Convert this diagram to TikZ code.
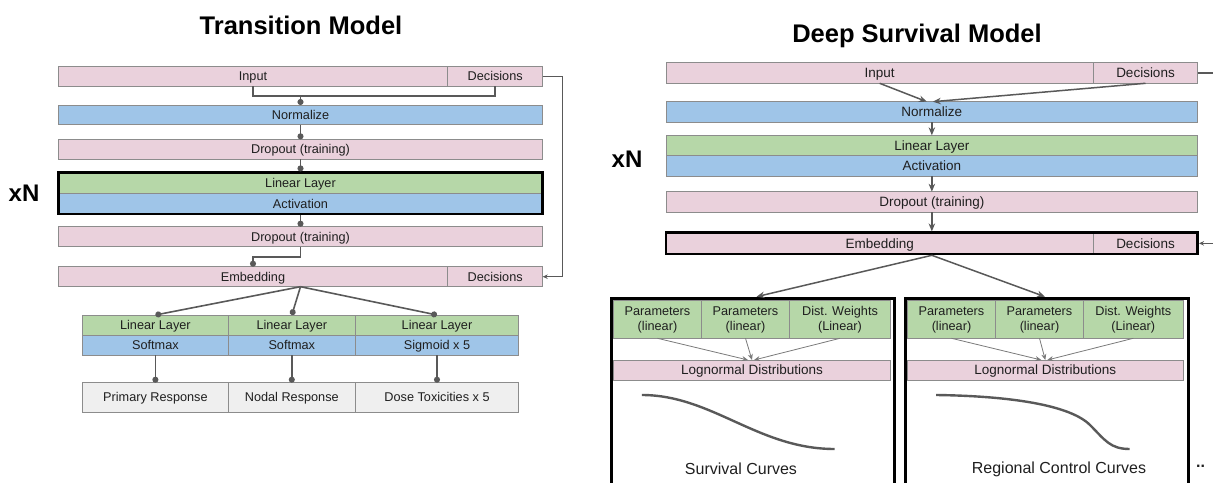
\documentclass[tikz,border=0pt]{standalone}
\usepackage{fontspec}
\setmainfont{Liberation Sans}
\usetikzlibrary{arrows.meta,fit,calc}

\definecolor{barpink}{HTML}{EAD1DC}
\definecolor{barblue}{HTML}{9FC5E8}
\definecolor{bargreen}{HTML}{B6D7A8}
\definecolor{bargrey}{HTML}{EFEFEF}
\definecolor{edgegrey}{HTML}{8C8C8C}
\definecolor{wire}{HTML}{595959}
\definecolor{thinwire}{HTML}{7A7A7A}
\definecolor{ink}{HTML}{1F1F1F}

\begin{document}
\begin{tikzpicture}[x=1pt,y=-1pt,
  cellbase/.style={draw=edgegrey, line width=0.8pt, inner sep=0pt, outer sep=0pt,
    anchor=north west, text=ink},
  cell/.style={cellbase, font=\fontsize{12.7}{15}\selectfont, text height=9.1pt, text depth=0pt},
  bigcell/.style={cellbase, font=\fontsize{13.5}{16}\selectfont, text height=9.7pt, text depth=0pt},
  paramcell/.style={cellbase, align=center, font=\fontsize{12.7}{15}\selectfont},
  pink/.style={fill=barpink}, blue/.style={fill=barblue},
  green/.style={fill=bargreen}, grey/.style={fill=bargrey},
  heavybox/.style={draw=black, line width=2.6pt, inner sep=0pt, fill=none},
  groupbox/.style={draw=black, line width=3pt, inner sep=0pt, anchor=north west},
  title/.style={font=\bfseries\fontsize{25.5}{30}\selectfont, text=black, inner sep=0pt},
  repeatmark/.style={font=\bfseries\fontsize{24}{28}\selectfont, text=black, inner sep=0pt},
  dotwire/.style={draw=wire, line width=1.6pt, -{Circle[length=6pt]}},
  plainwire/.style={draw=wire, line width=1.6pt},
  loopwire/.style={draw=wire, line width=1pt, -{Stealth[length=5pt,width=4.5pt]}},
  arrowwire/.style={draw=wire, line width=1.5pt, -{Stealth[length=8pt,width=6.5pt]}},
  fanin/.style={draw=thinwire, line width=0.8pt, -{Stealth[length=6pt,width=5pt]}},
  curve/.style={draw=wire, line width=2.4pt},
  caption/.style={font=\fontsize{16}{19}\selectfont, text=ink, inner sep=0pt}
]
\useasboundingbox (0,0) rectangle (1213,482);

% ---------------- Transition model ----------------
\node[title, anchor=base] (ltitle) at (301,34) {Transition Model};
\node[repeatmark] (lxn) at (24,193) {xN};

\node[cell, pink, minimum width=389.4, minimum height=20] (linp) at (58.3,66) {Input};
\node[cell, pink, minimum width=95, minimum height=20] (ldec) at (447.7,66) {Decisions};
\node[cell, blue, minimum width=484.4, minimum height=19.5] (lnorm) at (58.3,105) {Normalize};
\node[cell, pink, minimum width=484.4, minimum height=20] (ldrop1) at (58.3,139.3) {Dropout (training)};
\node[cell, green, minimum width=484.4, minimum height=20.6] (llin) at (58.3,172.7) {Linear Layer};
\node[cell, blue, minimum width=484.4, minimum height=20.6] (lact) at (58.3,193.3) {Activation};
\node[heavybox, fit=(llin)(lact)] (lxnbox) {};
\node[cell, pink, minimum width=484.4, minimum height=20] (ldrop2) at (58.3,226.7) {Dropout (training)};
\node[cell, pink, minimum width=389.4, minimum height=20] (lemb) at (58.3,266.7) {Embedding};
\node[cell, pink, minimum width=95, minimum height=20] (ledec) at (447.7,266.7) {Decisions};

% output heads
\node[cell, green, minimum width=145.4, minimum height=20] (lh1a) at (82.7,315) {Linear Layer};
\node[cell, blue,  minimum width=145.4, minimum height=20] (lh1b) at (82.7,335) {Softmax};
\node[cell, green, minimum width=127.4, minimum height=20] (lh2a) at (228.1,315) {Linear Layer};
\node[cell, blue,  minimum width=127.4, minimum height=20] (lh2b) at (228.1,335) {Softmax};
\node[cell, green, minimum width=163, minimum height=20] (lh3a) at (355.5,315) {Linear Layer};
\node[cell, blue,  minimum width=163, minimum height=20] (lh3b) at (355.5,335) {Sigmoid x 5};

\node[cell, grey, minimum width=145.4, minimum height=29.3] (lo1) at (82.7,382.7) {Primary Response};
\node[cell, grey, minimum width=127.4, minimum height=29.3] (lo2) at (228.1,382.7) {Nodal Response};
\node[cell, grey, minimum width=163, minimum height=29.3] (lo3) at (355.5,382.7) {Dose Toxicities x 5};

% connectors
\coordinate (lbr) at (300.5,95.7);
\draw[plainwire] (linp.south) -- (linp.south |- lbr) -- (ldec.south |- lbr) -- (ldec.south);
\draw[dotwire] (lbr) -- (lnorm.north);
\draw[dotwire] (lnorm.south) -- (ldrop1.north);
\draw[dotwire] (ldrop1.south) -- (lxnbox.north);
\draw[dotwire] (lxnbox.south) -- (ldrop2.north);
\coordinate (lel) at (253,256.7);
\draw[dotwire] (ldrop2.south) -- (ldrop2.south |- lel) -- (lel) -- (lemb.north);
\coordinate (lfan) at (lemb.south -| lnorm.north);
\draw[dotwire] (lfan) -- (lh1a.north);
\draw[dotwire] (lfan) -- (lh2a.north);
\draw[dotwire] (lfan) -- (lh3a.north);
\draw[dotwire] (lh1b.south) -- (lo1.north);
\draw[dotwire] (lh2b.south) -- (lo2.north);
\draw[dotwire] (lh3b.south) -- (lo3.north);
\coordinate (lloop) at (562.7,0);
\draw[loopwire] (ldec.east) -- (ldec.east -| lloop) -- (ledec.east -| lloop) -- (ledec.east);

% ---------------- Deep survival model ----------------
\node[title, anchor=base] (rtitle) at (917,42) {Deep Survival Model};
\node[repeatmark] (rxn) at (627,159) {xN};

\node[bigcell, pink, minimum width=427.3, minimum height=20.6] (rinp) at (666,62.7) {Input};
\node[bigcell, pink, minimum width=104.4, minimum height=20.6] (rdec) at (1093.3,62.7) {Decisions};
\node[bigcell, blue, minimum width=531.7, minimum height=20.6] (rnorm) at (666,101.7) {Normalize};
\node[bigcell, green, minimum width=531.7, minimum height=20.3] (rlin) at (666,135.3) {Linear Layer};
\node[bigcell, blue, minimum width=531.7, minimum height=20.4] (ract) at (666,155.6) {Activation};
\node[bigcell, pink, minimum width=531.7, minimum height=20.6] (rdrop) at (666,191.7) {Dropout (training)};
\node[bigcell, pink, minimum width=427.3, minimum height=21.3] (remb) at (666,232.7) {Embedding};
\node[bigcell, pink, minimum width=104.4, minimum height=21.3] (redec) at (1093.3,232.7) {Decisions};
\node[heavybox, fit=(remb)(redec)] (rembbox) {};

% output groups, open at the bottom edge
\node[groupbox, minimum width=283, minimum height=230] (g1) at (609.5,296.7) {};
\node[groupbox, minimum width=283, minimum height=230] (g2) at (904,296.7) {};

\node[paramcell, green, minimum width=88.4, minimum height=37.6] (p11) at (613.3,300.7) {Parameters\\(linear)};
\node[paramcell, green, minimum width=87.6, minimum height=37.6] (p12) at (701.7,300.7) {Parameters\\(linear)};
\node[paramcell, green, minimum width=101.4, minimum height=37.6] (p13) at (789.3,300.7) {Dist. Weights\\(Linear)};
\node[bigcell, pink, minimum width=277.4, minimum height=20] (log1) at (613.3,360) {Lognormal Distributions};

\node[paramcell, green, minimum width=88.4, minimum height=37.6] (p21) at (907.3,300.7) {Parameters\\(linear)};
\node[paramcell, green, minimum width=87.6, minimum height=37.6] (p22) at (995.7,300.7) {Parameters\\(linear)};
\node[paramcell, green, minimum width=100, minimum height=37.6] (p23) at (1083.3,300.7) {Dist. Weights\\(Linear)};
\node[bigcell, pink, minimum width=276, minimum height=20] (log2) at (907.3,360) {Lognormal Distributions};

% curve sketches
\draw[curve] (641.8,395) .. controls (712,395) and (758,449) .. (834.6,449);
\draw[curve] (936.2,395) .. controls (1010,396) and (1070,405) .. (1090,425)
  .. controls (1105,440) and (1110,449) .. (1129.7,449);

\node[caption] (cap1) at (741,469) {Survival Curves};
\node[caption] (cap2) at (1059,469) {Regional Control Curves};
\node[caption, font=\bfseries\fontsize{16}{19}\selectfont, anchor=west] (more) at (1196,466) {..};

% connectors
\draw[arrowwire] (rinp.south) -- ($(rnorm.north)+(-5,0)$);
\draw[arrowwire] (rdec.south) -- ($(rnorm.north)+(1,0)$);
\draw[arrowwire] (rnorm.south) -- (rlin.north);
\draw[arrowwire] (ract.south) -- (rdrop.north);
\draw[arrowwire] (rdrop.south) -- (rembbox.north);
\draw[arrowwire] (rembbox.south) -- ($(g1.north)+(4,0)$);
\draw[arrowwire] (rembbox.south) -- ($(g2.north)+(-2,0)$);

\draw[fanin] (p11.south) -- ($(log1.north)+(-4,0)$);
\draw[fanin] (p12.south) -- (log1.north);
\draw[fanin] (p13.south) -- ($(log1.north)+(2,0)$);
\draw[fanin] (p21.south) -- ($(log2.north)+(-4,0)$);
\draw[fanin] (p22.south) -- (log2.north);
\draw[fanin] (p23.south) -- ($(log2.north)+(2,0)$);

\coordinate (rloop) at (1222,0);
\draw[loopwire, line width=1.2pt] (rdec.east) -- (rdec.east -| rloop) -- (rembbox.east -| rloop) -- (rembbox.east);
\end{tikzpicture}
\end{document}
